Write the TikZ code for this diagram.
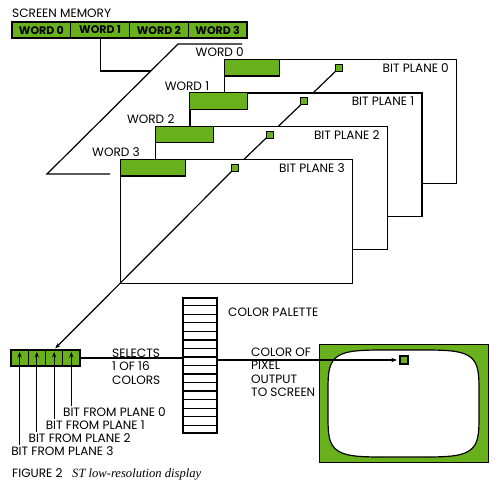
\documentclass[tikz,border=0pt]{standalone}
\usepackage{fontspec}
\setmainfont{Poppins}
\newfontfamily\serifit{Liberation Serif}
\usetikzlibrary{arrows.meta,calc}
\definecolor{stgreen}{RGB}{104,176,28}
\newcommand{\lbfont}{\fontsize{12.1}{13.4}\selectfont}
\begin{document}
\begin{tikzpicture}[x=1pt,y=-1pt,
  lbl/.style={font=\lbfont, inner sep=0pt},
  plane/.style={draw, fill=white, line width=1.2pt, minimum width=232pt, minimum height=123.5pt, anchor=north west, inner sep=0pt},
  wordblk/.style={draw, fill=stgreen, line width=1.1pt, minimum height=16.5pt, anchor=north west, inner sep=0pt},
  memcell/.style={draw, fill=stgreen, line width=1.1pt, minimum width=58.75pt, minimum height=16pt, inner sep=0pt, font=\fontsize{11}{12}\selectfont\bfseries},
  regcell/.style={draw, fill=stgreen, line width=1.1pt, minimum width=17.25pt, minimum height=16pt, inner sep=0pt},
  pix/.style={draw, fill=stgreen, line width=1.1pt, minimum size=7pt, inner sep=0pt},
  conn/.style={line width=1.2pt},
  arr/.style={conn, -{Stealth[length=5.5pt,width=4.2pt]}}]
\useasboundingbox (0,0) rectangle (500,489);
\fill[white] (0,0) rectangle (500,489);

% screen memory
\node[lbl, anchor=west] (smlabel) at (12,13.5) {SCREEN MEMORY};
\foreach \k in {0,...,3}
  \node[memcell] (m\k) at (41.4+58.75*\k,30) {WORD \k};

% outline behind the planes
\coordinate (tA) at (242,44);
\coordinate (tB) at (178,44);
\coordinate (tC) at (47,174);
\coordinate (tD) at (110,174);
\draw[conn] (tA) -- (tB) -- (tC) -- (tD);
\draw[conn] (m1.south) |- ($(tB)!27/130!(tC)$);

% register
\foreach \k in {1,...,4}
  \node[regcell] (r\k) at (2.375+17.25*\k,358) {};
\node[lbl, anchor=west] (bl0) at (62.9,412) {BIT FROM PLANE 0};
\node[lbl, anchor=west] (bl1) at (45.6,425) {BIT FROM PLANE 1};
\node[lbl, anchor=west] (bl2) at (28.4,438) {BIT FROM PLANE 2};
\node[lbl, anchor=west] (bl3) at (11.1,451) {BIT FROM PLANE 3};
\draw[arr, shorten <=1.5pt, shorten >=2.5pt] (r4.center |- bl0.north) -- (r4.north);
\draw[arr, shorten <=1.5pt, shorten >=2.5pt] (r3.center |- bl1.north) -- (r3.north);
\draw[arr, shorten <=1.5pt, shorten >=2.5pt] (r2.center |- bl2.north) -- (r2.north);
\draw[arr, shorten <=1.5pt, shorten >=2.5pt] (r1.center |- bl3.north) -- (r1.north);

% palette
\node[draw, line width=1.2pt, minimum width=34pt, minimum height=135pt, inner sep=0pt] (pal) at (200,365.5) {};
\foreach \i in {1,...,15}
  \draw[line width=1.1pt] ($(pal.north west)!\i/16!(pal.south west)$) -- ($(pal.north east)!\i/16!(pal.south east)$);
\draw[conn] (r4.east) -- (pal.west |- r4.east);
\node[lbl, anchor=north west, align=left] (sel) at (112,348.8) {SELECTS\\1 OF 16\\COLORS};
\node[lbl, anchor=west] (cpl) at (228,312.5) {COLOR PALETTE};
\node[lbl, anchor=north west, align=left] (cof) at (251,347.8) {COLOR OF\\PIXEL\\OUTPUT\\TO SCREEN};

% screen
\node[draw, fill=stgreen, line width=0.9pt, minimum width=169pt, minimum height=118pt, inner sep=0pt] (scr) at (403.5,403) {};
\draw[line width=1.2pt, fill=white] plot[domain=1.5:361.5, samples=121, smooth]
  ({403.5+75.5*sign(cos(\x))*abs(cos(\x))^0.38}, {403.5+53.5*sign(sin(\x))*abs(sin(\x))^0.38}) -- cycle;
\node[pix, minimum size=8pt] (px) at (404,360) {};
\draw[arr, shorten >=2.5pt] (pal.east |- px.west) -- (px.west);

% bit planes
\foreach \k in {0,...,3}
  \coordinate (c\k) at (339-34.667*\k,68+33.333*\k);
\foreach \k/\gw in {0/55,1/58,2/58,3/65}{
  \pgfmathsetmacro\px{224-34.667*\k}
  \pgfmathsetmacro\py{59+33.333*\k}
  \node[plane] (p\k) at (\px,\py) {};
  \node[wordblk, minimum width=\gw pt] (g\k) at (\px,\py) {};
  \node[lbl, anchor=east] (w\k) at (\px+20,\py-6.5) {WORD \k};
  \node[lbl, anchor=east] (b\k) at (\px+225,\py+9) {BIT PLANE \k};
  \ifnum\k<3
    \pgfmathtruncatemacro\kn{\k+1}
    \draw[conn] (c\k) -- (c\kn);
  \else
    \draw[arr, shorten >=1.5pt] (c3) -- (r3.north);
  \fi
  \node[pix] (s\k) at (c\k) {};
}

% caption
\node[lbl, anchor=west] (fig) at (12,473) {FIGURE 2};
\node[inner sep=0pt, anchor=base west, font=\serifit\itshape\fontsize{12.6}{14}\selectfont] (cap) at (72,477) {ST low-resolution display};
\end{tikzpicture}
\end{document}
